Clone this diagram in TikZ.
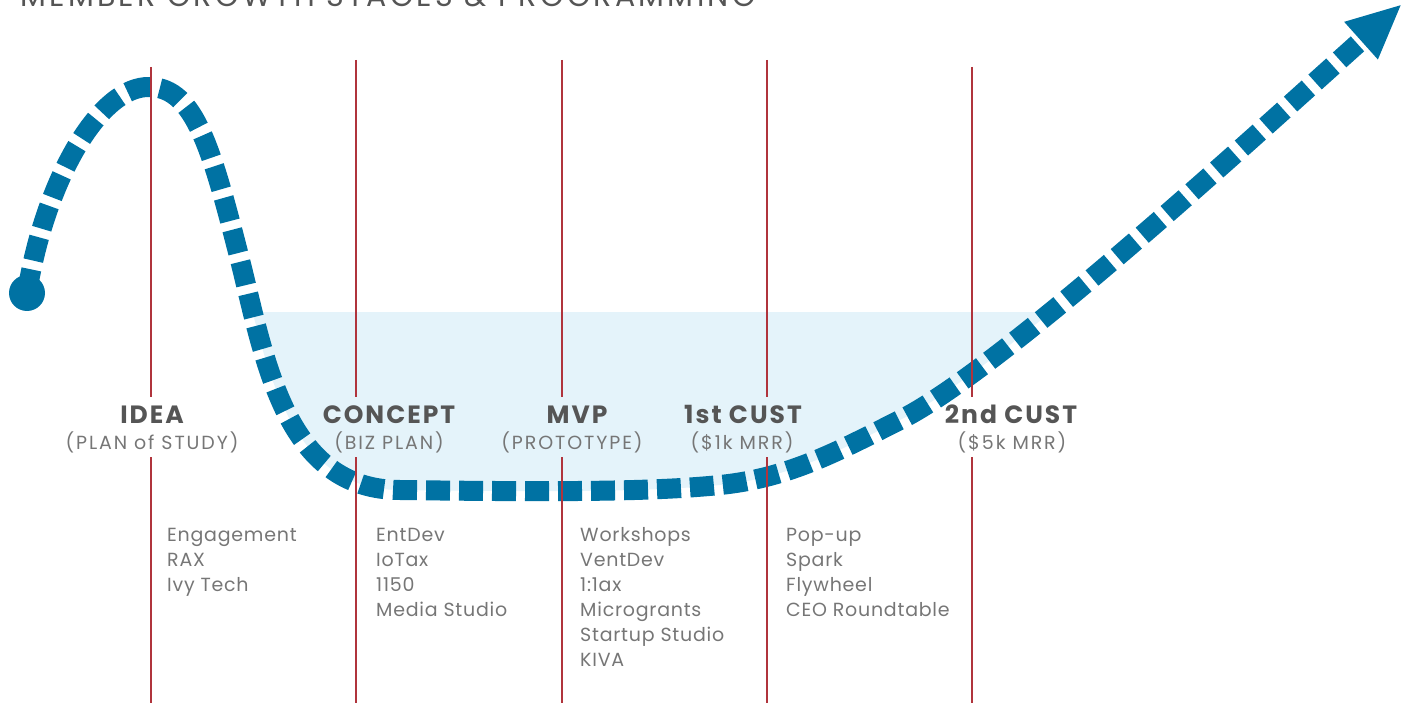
\documentclass[tikz,border=0pt]{standalone}
\usepackage{fontspec}
\setmainfont{Poppins}
\usepackage{xcolor}
\usetikzlibrary{arrows.meta}
\definecolor{growblue}{RGB}{0,114,163}
\definecolor{poolblue}{RGB}{228,243,250}
\definecolor{stagered}{RGB}{176,52,60}
\definecolor{labelgray}{RGB}{85,85,85}
\definecolor{listgray}{RGB}{118,118,118}
\def\growthpath{(start.center) .. controls (45,180) and (100,85) .. (150,87)
	.. controls (195,88) and (212,150) .. (240,260)
	.. controls (265,360) and (285,490) .. (400,490)
	.. controls (550,492) and (650,492) .. (720,485)
	.. controls (790,478) and (840,450) .. (900,420)
	.. controls (1000,370) and (1250,140) .. (1402,4)}

\begin{document}
\begin{tikzpicture}[x=1pt,y=-1pt,
	stage/.style={font=\fontsize{25}{25}\selectfont\bfseries\addfontfeature{LetterSpace=8},text=labelgray,inner sep=0pt,anchor=base},
	sub/.style={font=\fontsize{19}{19}\selectfont\addfontfeature{LetterSpace=10},text=listgray,inner sep=0pt,anchor=base},
	prog/.style={font=\fontsize{19}{25}\selectfont\addfontfeature{LetterSpace=4},text=listgray,align=left,inner sep=0pt,anchor=base west},
	stageline/.style={draw=stagered,line width=2pt}]
	\useasboundingbox (0,0) rectangle (1408,703);
	\node[font=\fontsize{30}{30}\selectfont\addfontfeature{LetterSpace=11},text=labelgray,anchor=base west,inner sep=0pt] (title) at (20,7) {MEMBER GROWTH STAGES \& PROGRAMMING};
	\node[circle,fill=growblue,minimum size=36pt,inner sep=0pt] (start) at (27,293) {};
	\begin{scope}
		\clip (0,313) rectangle (1408,703);
		\fill[poolblue] \growthpath -- (1408,0) -- (0,0) -- cycle;
	\end{scope}
	\draw[growblue,line width=20pt,dash pattern=on 24pt off 9pt,-{Triangle[length=55pt,width=46pt]}] \growthpath;
	\node[stage] (idea) at (152,423) {IDEA};
	\node[sub] (ideasub) at (152,449) {(PLAN of STUDY)};
	\node[stage] (concept) at (389,423) {CONCEPT};
	\node[sub] (conceptsub) at (389,449) {(BIZ PLAN)};
	\node[stage] (mvp) at (577,423) {MVP};
	\node[sub] (mvpsub) at (572,449) {(PROTOTYPE)};
	\node[stage] (cust1) at (743,423) {1st CUST};
	\node[sub] (cust1sub) at (742,449) {(\$1k MRR)};
	\node[stage] (cust2) at (1011,423) {2nd CUST};
	\node[sub] (cust2sub) at (1012,449) {(\$5k MRR)};
	\coordinate (ideatop) at (151,67);
	\coordinate (concepttop) at (356,60);
	\coordinate (mvptop) at (562,60);
	\coordinate (cust1top) at (767,60);
	\coordinate (cust2top) at (972,67);
	\foreach \s in {idea,concept,mvp,cust1,cust2}{
		\draw[stageline] (\s top) -- (\s top |- 0,397);
		\draw[stageline] (\s top |- 0,457) -- (\s top |- 0,703);
	}
	\node[prog] (ideaprog) at (167,591) {Engagement\\RAX\\Ivy Tech};
	\node[prog] (conceptprog) at (376,616) {EntDev\\IoTax\\1150\\Media Studio};
	\node[prog] (mvpprog) at (580,666) {Workshops\\VentDev\\1:1ax\\Microgrants\\Startup Studio\\KIVA};
	\node[prog] (cust1prog) at (786,616) {Pop-up\\Spark\\Flywheel\\CEO Roundtable};
\end{tikzpicture}
\end{document}
